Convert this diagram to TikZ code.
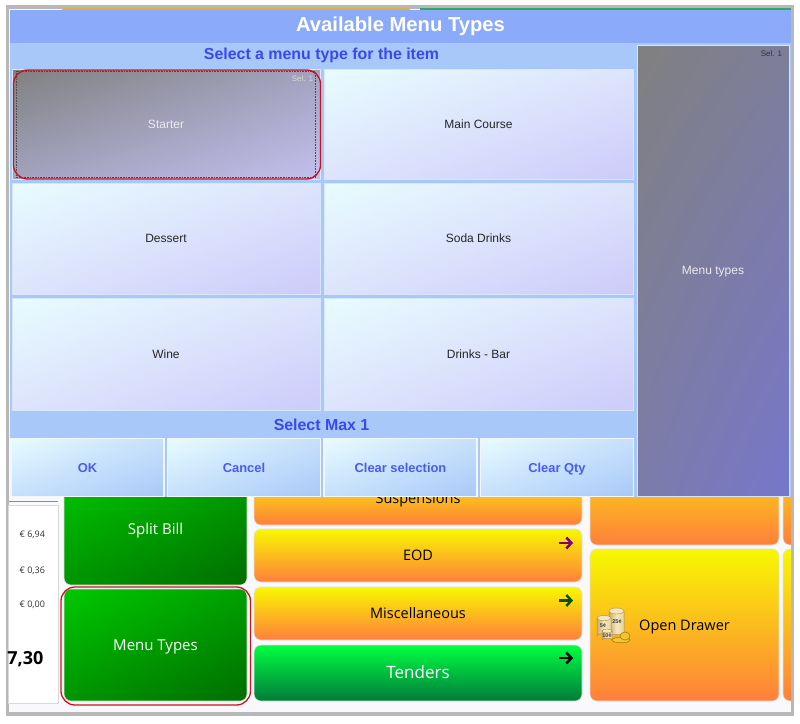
\documentclass[tikz,border=0pt]{standalone}
\usepackage{fontspec}
\setmainfont{Liberation Sans}
\newfontfamily\posfont{Open Sans}
\usetikzlibrary{arrows.meta,shadings}
\definecolor{framegray}{HTML}{B8B8B8}
\definecolor{pagebg}{HTML}{F9F9FC}
\definecolor{titleblue}{HTML}{8CAAFA}
\definecolor{panelblue}{HTML}{A9C8FA}
\definecolor{inkblue}{HTML}{3A48F0}
\definecolor{btnblue}{HTML}{4A5CF0}
\definecolor{lightedge}{HTML}{D8E6FC}
\definecolor{hlred}{HTML}{C8141E}
\definecolor{iceA}{HTML}{E8FCFF}
\definecolor{iceB}{HTML}{DDE4FC}
\definecolor{iceC}{HTML}{CCCBFA}
\definecolor{skyB}{HTML}{C6E0FC}
\definecolor{skyC}{HTML}{A9C8F8}
\definecolor{orgA}{HTML}{F8F800}
\definecolor{orgB}{HTML}{FF7F3C}
\definecolor{grnA}{HTML}{00C800}
\definecolor{grnB}{HTML}{00A000}
\definecolor{grnC}{HTML}{009400}
\definecolor{grnD}{HTML}{006E00}
\definecolor{tenA}{HTML}{00FF40}
\definecolor{tenB}{HTML}{007A3C}
\definecolor{stripA}{HTML}{E0B040}
\definecolor{stripB}{HTML}{30A860}
\definecolor{purp}{HTML}{800080}
\definecolor{darkgrn}{HTML}{0A5000}
\definecolor{selA}{HTML}{808080}
\definecolor{selB}{HTML}{A2A2BE}
\definecolor{selC}{HTML}{C3BFEE}
\definecolor{typB}{HTML}{7E7E9A}
\definecolor{typC}{HTML}{7C7CAA}
\definecolor{typD}{HTML}{7676CC}
\definecolor{coinE}{HTML}{A88C50}
\definecolor{coinL}{HTML}{C8AE70}
\definecolor{coinR}{HTML}{E8D498}
\definecolor{coinM}{HTML}{F4E8BC}
\definecolor{goldE}{HTML}{A87A10}
\definecolor{goldF}{HTML}{F4C430}
\tikzset{
  x=1pt,y=-1pt,
  box/.style={rectangle,inner sep=0pt,outer sep=0pt,align=center},
  menubtn/.style={box,draw=lightedge,line width=.8pt,font=\fontsize{12}{13}\selectfont,text=black!85,text height=8.5pt,text depth=0pt,
    upper left=iceA,upper right=iceB,lower left=iceB,lower right=iceC},
  actionbtn/.style={box,draw=white!85!panelblue,line width=1.2pt,font=\bfseries\fontsize{12.9}{14}\selectfont,text=btnblue,text height=10pt,text depth=0pt,
    upper left=iceA,upper right=skyB,lower left=skyB,lower right=skyC,minimum width=153pt,minimum height=58pt},
  orangebtn/.style={box,rounded corners=7pt,draw=black!12,line width=.6pt,top color=orgA,bottom color=orgB,text height=10pt,text depth=0pt,
    font=\posfont\fontsize{14.5}{17}\selectfont,text=black},
  greenbtn/.style={box,rounded corners=7pt,draw=black!12,line width=.6pt,text height=11.5pt,text depth=0pt,font=\posfont\fontsize{15}{17}\selectfont,text=white},
  diaggreen/.style={greenbtn,upper left=grnA,upper right=grnB,lower left=grnC,lower right=grnD},
  hl/.style={draw=hlred,line width=1.3pt,rounded corners=14pt},
  tip/.style={line width=2.5pt,-{Straight Barb[length=5pt,width=11pt,line width=2.5pt]}},
  amount/.style={box,font=\posfont\fontsize{9}{11}\selectfont,text=black!80},
  caption/.style={box,font=\bfseries\fontsize{15.9}{18}\selectfont,text=inkblue},
  coin/.style={draw=coinE,line width=.5pt,left color=coinL,right color=coinR,middle color=coinM},
  cointext/.style={box,font=\bfseries\fontsize{5.5}{6}\selectfont,text=black!75},
  gold/.style={draw=goldE,line width=.6pt,fill=goldF}
}
\begin{document}
\begin{tikzpicture}
\useasboundingbox (0,0) rectangle (800,723);
\fill[white] (0,0) rectangle (800,723);
% window frame
\fill[framegray] (6,5) rectangle (794,716);
\fill[pagebg] (9,9) rectangle (791,712);
\fill[stripA] (62,8) rectangle (410,9.5);
\fill[stripB] (420,8) rectangle (791,9.5);

% receipt panel
\draw[black!15,fill=white] (8,505) rectangle (58,703);
\draw[black!45,line width=.8pt] (9,501) -- (58,501);
\node[amount,anchor=east] (a1) at (45,534.5) {€ 6,94};
\node[amount,anchor=east] (a2) at (45,571) {€ 0,36};
\node[amount,anchor=east] (a3) at (45,605) {€ 0,00};
\node[box,anchor=east,font=\posfont\bfseries\fontsize{18}{20}\selectfont] (total) at (43.5,659) {7,30};

% green buttons
\node[diaggreen,minimum width=183pt,minimum height=113pt] (split) at (155.5,528.5) {Split Bill};
\node[diaggreen,minimum width=183pt,minimum height=112pt] (menutypes) at (155.5,645) {Menu Types};
\draw[hl] (61,587) rectangle (250.5,705);

% orange stack
\node[orangebtn,minimum width=328pt,minimum height=54pt] (susp) at (418,498) {Suspensions};
\node[orangebtn,minimum width=328pt,minimum height=53pt] (eod) at (418,555.5) {EOD};
\node[orangebtn,minimum width=328pt,minimum height=53pt] (misc) at (418,613.5) {Miscellaneous};
\node[greenbtn,top color=tenA,bottom color=tenB,minimum width=328pt,minimum height=56pt,text height=11pt,font=\posfont\fontsize{17}{20}\selectfont] (tenders) at (418,673) {Tenders};
\coordinate (ea) at (559,543);\coordinate (eb) at (573,543);
\coordinate (ma) at (559,600.5);\coordinate (mb) at (573,600.5);
\coordinate (ta) at (559,658);\coordinate (tb) at (573,658);
\draw[tip,purp] (ea) -- (eb);
\draw[tip,darkgrn] (ma) -- (mb);
\draw[tip,black] (ta) -- (tb);

% right buttons
\node[orangebtn,minimum width=189pt,minimum height=110pt] (topb) at (684.5,490) {};
\begin{scope}
\clip (700,440) rectangle (791,712);
\node[orangebtn,minimum width=40pt,minimum height=110pt] (topc) at (803,490) {};
\node[orangebtn,minimum width=40pt,minimum height=152pt] (nextb) at (803,625) {};
\end{scope}
\node[orangebtn,minimum width=189pt,minimum height=152pt] (drawer) at (684.5,625) {Open Drawer};

% coins icon
\begin{scope}
\draw[coin] (609,611) -- (609,637) arc[start angle=180,end angle=360,x radius=7.5,y radius=2.5] -- (624,611) -- cycle;
\fill[coinM] (616.5,611) ellipse[x radius=7.5,y radius=3];
\draw[coinE,line width=.4pt] (616.5,611) ellipse[x radius=7.5,y radius=3];
\node[cointext] (c25) at (617,621.5) {25¢};
\draw[coin] (597,618) -- (597,636) arc[start angle=180,end angle=360,x radius=7,y radius=2.5] -- (611,618) -- cycle;
\fill[coinM] (604,618) ellipse[x radius=7,y radius=2.5];
\draw[coinE,line width=.4pt] (604,618) ellipse[x radius=7,y radius=2.5];
\node[cointext] (c5) at (603,626) {5¢};
\draw[coin] (602,631) -- (602,640) arc[start angle=180,end angle=360,x radius=5,y radius=2] -- (612,631) -- cycle;
\fill[coinM] (607,631) ellipse[x radius=5,y radius=2];
\draw[coinE,line width=.4pt] (607,631) ellipse[x radius=5,y radius=2];
\node[cointext] (c10) at (607,636) {10¢};
\draw[gold] (621,640) ellipse[x radius=9,y radius=2.8];
\draw[gold] (625,636) ellipse[x radius=5,y radius=4];
\end{scope}

% dialog
\fill[panelblue] (10,42) rectangle (791,497);
\node[box,fill=titleblue,minimum width=781pt,minimum height=33pt,text=white,font=\bfseries\fontsize{20.2}{23}\selectfont] (title) at (400.5,26) {Available Menu Types};
\node[caption] (sel) at (321.5,55) {Select a menu type for the item};

\node[menubtn,upper left=selA,upper right=selB,lower left=selB,lower right=selC,text=white!92!black,minimum width=308pt,minimum height=110pt] (starter) at (166,124) {Starter};
\draw[black!70,densely dotted,line width=.6pt] (16,71) rectangle (315.5,177);
\node[box,anchor=east,font=\fontsize{8}{10}\selectfont,text=white!85!black] (sel1) at (313,79) {Sel. 1};
\draw[hl] (13.5,70) rectangle (320.5,179);

\node[menubtn,minimum width=309pt,minimum height=110pt] (main) at (478.5,124) {Main Course};
\node[menubtn,minimum width=308pt,minimum height=111pt] (dessert) at (166,238.5) {Dessert};
\node[menubtn,minimum width=309pt,minimum height=111pt] (soda) at (478.5,238.5) {Soda Drinks};
\node[menubtn,minimum width=308pt,minimum height=112pt] (wine) at (166,354) {Wine};
\node[menubtn,minimum width=309pt,minimum height=112pt] (bar) at (478.5,354) {Drinks - Bar};

\node[caption] (max) at (321.5,425) {Select Max 1};

\node[actionbtn] (ok) at (87.5,467.5) {OK};
\node[actionbtn] (cancel) at (244,467.5) {Cancel};
\node[actionbtn] (clear) at (400.5,467.5) {Clear selection};
\node[actionbtn] (qty) at (557,467.5) {Clear Qty};

\node[box,draw=lightedge,line width=1pt,upper left=selA,upper right=typB,lower left=typC,lower right=typD,minimum width=152pt,minimum height=451pt,text height=8.5pt,text depth=0pt,font=\fontsize{12}{13}\selectfont,text=white!92!black] (types) at (713,270.5) {Menu types};
\node[box,anchor=east,font=\fontsize{8}{10}\selectfont,text=black!80] (sel2) at (782,54) {Sel. 1};
\end{tikzpicture}
\end{document}
